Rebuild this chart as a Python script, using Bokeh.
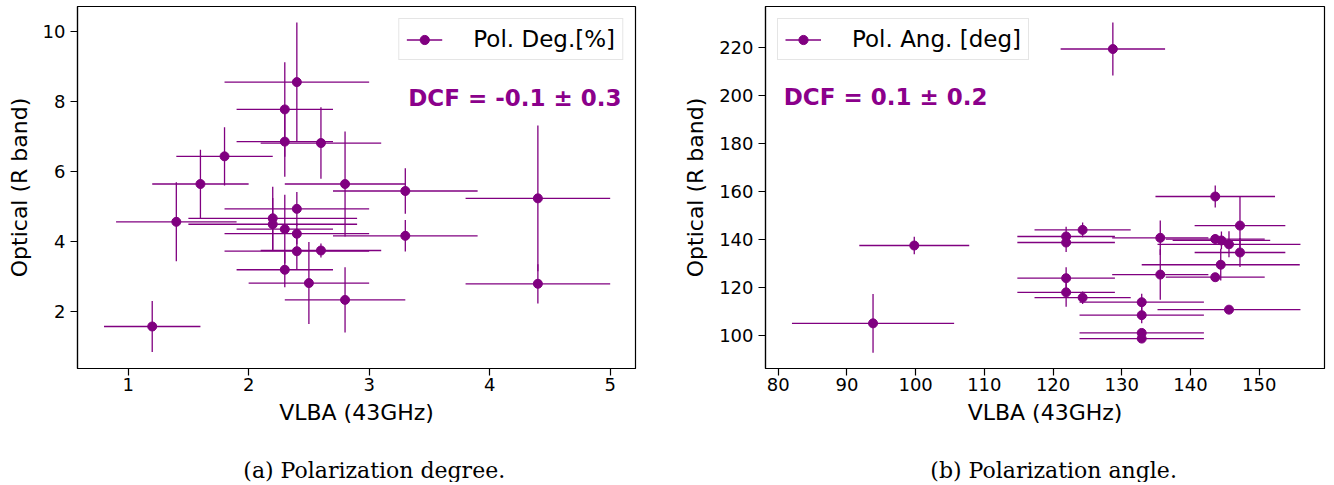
import numpy as np
from bokeh.plotting import figure
from bokeh.models import ColumnDataSource, Legend, LegendItem, Label, Range1d, FixedTicker
from bokeh.layouts import row, column
from bokeh.embed import file_html
from bokeh.resources import INLINE

# ---- Panel (a): polarization degree ----
deg_vlba = [1.2, 1.4, 1.6, 1.8, 2.2, 2.2, 2.3, 2.3, 2.4, 2.6, 2.8, 2.4,
            2.4, 2.4, 2.6, 2.3, 2.3, 2.5, 2.8, 3.3, 3.3, 4.4, 4.4]
deg_opt = [1.57, 4.56, 5.64, 6.43, 4.66, 4.49, 7.77, 6.85, 8.55, 6.81, 5.64, 4.93,
           4.22, 3.72, 3.74, 4.35, 3.19, 2.81, 2.33, 5.44, 4.16, 5.23, 2.79]
deg_vlba_err = [0.4, 0.5, 0.4, 0.4, 0.7, 0.7, 0.4, 0.4, 0.6, 0.5, 0.5, 0.6,
                0.6, 0.6, 0.5, 0.4, 0.4, 0.5, 0.5, 0.6, 0.6, 0.6, 0.6]
deg_opt_err = [0.73, 1.13, 0.98, 0.83, 0.9, 0.75, 1.35, 1.0, 1.7, 1.02, 1.5, 0.48,
               0.3, 0.53, 0.2, 0.98, 0.5, 1.17, 0.93, 0.65, 0.45, 2.08, 0.56]

# ---- Panel (b): polarization angle ----
ang_vlba = [93.8, 99.8, 128.7, 121.9, 121.9, 124.3, 121.9, 121.9, 124.3, 132.9, 132.9, 132.9,
            132.9, 135.6, 135.6, 143.6, 143.6, 144.5, 145.6, 147.2, 147.2, 144.4, 143.6, 145.6]
ang_opt = [105.1, 137.5, 219.3, 141.25, 138.75, 144.0, 123.9, 118.0, 115.8, 113.9, 108.5, 101.1,
           98.75, 140.7, 125.4, 157.9, 140.2, 139.6, 138.0, 145.8, 134.6, 129.5, 124.3, 110.8]
ang_vlba_err = [11.8, 8.0, 7.6, 7.1, 7.1, 7.0, 7.1, 7.1, 7.0, 9.05, 9.05, 9.05,
                9.05, 7.0, 7.0, 8.7, 7.2, 7.1, 10.4, 6.6, 6.6, 11.5, 7.2, 10.4]
ang_opt_err = [12.2, 3.6, 11.0, 4.1, 4.0, 3.1, 4.6, 6.0, 2.6, 3.5, 3.4, 1.0,
               1.0, 7.2, 10.5, 4.6, 2.0, 3.7, 5.4, 12.0, 6.0, 6.6, 1.5, 1.0]

deg_xticks = [1, 2, 3, 4, 5]
deg_yticks = [2, 4, 6, 8, 10]
ang_xticks = [80, 90, 100, 110, 120, 130, 140, 150]
ang_yticks = [100, 120, 140, 160, 180, 200, 220]

PURPLE = "#800080"
TEXT_PURPLE = "#8B008B"
FONT = "DejaVu Sans"


def make_panel(x, y, xe, ye, xr, yr, xt, yt, legend_text, legend_loc,
               dcf_text, dcf_x, dcf_y, dcf_align,
               border_left, border_right, frame_w):
    x = np.array(x, dtype=float)
    y = np.array(y, dtype=float)
    xe = np.array(xe, dtype=float)
    ye = np.array(ye, dtype=float)
    src = ColumnDataSource(dict(x=x, y=y, x0=x - xe, x1=x + xe, y0=y - ye, y1=y + ye))

    p = figure(frame_width=frame_w, frame_height=362,
               x_range=Range1d(*xr), y_range=Range1d(*yr),
               output_backend="svg", toolbar_location=None,
               min_border_left=border_left, min_border_right=border_right,
               min_border_top=6, min_border_bottom=64)

    xr_r = p.segment(x0="x0", y0="y", x1="x1", y1="y", source=src,
                     line_color=PURPLE, line_width=1.3)
    p.segment(x0="x", y0="y0", x1="x", y1="y1", source=src,
              line_color=PURPLE, line_width=1.3)
    sc = p.scatter(x="x", y="y", source=src, size=9, marker="circle",
                   fill_color=PURPLE, line_color=PURPLE)

    p.xgrid.visible = False
    p.ygrid.visible = False
    p.outline_line_color = "black"
    p.outline_line_width = 1.2
    p.outline_line_alpha = 1.0
    p.background_fill_color = "white"
    p.border_fill_color = "white"

    p.xaxis.ticker = FixedTicker(ticks=xt)
    p.yaxis.ticker = FixedTicker(ticks=yt)
    for ax in (p.xaxis, p.yaxis):
        ax.axis_line_color = "black"
        ax.axis_line_width = 1.2
        ax.major_tick_line_color = "black"
        ax.major_tick_line_width = 1.2
        ax.major_tick_out = 7
        ax.major_tick_in = 0
        ax.minor_tick_line_color = None
        ax.major_label_text_font = FONT
        ax.major_label_text_font_size = "18px"
        ax.major_label_text_color = "black"
        ax.axis_label_text_font = FONT
        ax.axis_label_text_font_size = "22px"
        ax.axis_label_text_font_style = "normal"
        ax.axis_label_text_color = "black"
    p.xaxis.axis_label = "VLBA (43GHz)"
    p.yaxis.axis_label = "Optical (R band)"
    p.xaxis.major_label_standoff = 2
    p.yaxis.major_label_standoff = 5
    p.xaxis.axis_label_standoff = 6
    p.yaxis.axis_label_standoff = 8

    legend = Legend(items=[LegendItem(label=legend_text, renderers=[xr_r, sc])],
                    location=legend_loc, margin=12, padding=7,
                    glyph_width=36, glyph_height=23, label_standoff=31,
                    label_text_font=FONT, label_text_font_size="23px",
                    label_text_color="black",
                    border_line_color="#cccccc", border_line_width=1.2,
                    background_fill_color="white", background_fill_alpha=0.8)
    p.add_layout(legend)

    p.add_layout(Label(x=dcf_x, y=dcf_y, text=dcf_text, text_align=dcf_align,
                       text_baseline="alphabetic", text_font=FONT,
                       text_font_size="23px", text_font_style="bold",
                       text_color=TEXT_PURPLE))
    return p


def make_caption(text, width, cx):
    h = 50
    c = figure(width=width, height=h, x_range=Range1d(0, width), y_range=Range1d(0, h),
               output_backend="svg", toolbar_location=None, min_border=0,
               x_axis_location=None, y_axis_location=None,
               outline_line_color=None)
    c.grid.visible = False
    c.add_layout(Label(x=cx, y=12, text=text, text_align="center",
                       text_baseline="alphabetic", text_font="DejaVu Serif",
                       text_font_size="22px", text_font_style="normal",
                       text_color="black"))
    return c


p1 = make_panel(deg_vlba, deg_opt, deg_vlba_err, deg_opt_err,
                (0.58, 5.21), (0.37, 10.71), deg_xticks, deg_yticks,
                "Pol. Deg.[%]", "top_right",
                "DCF = -0.1 \u00b1 0.3", 5.094, 8.11, "right",
                77, 10, 558)

p2 = make_panel(ang_vlba, ang_opt, ang_vlba_err, ang_opt_err,
                (78.15, 159.5), (86.3, 237.0), ang_xticks, ang_yticks,
                "Pol. Ang. [deg]", "top_left",
                "DCF = 0.1 \u00b1 0.2", 80.8, 199.2, "left",
                120, 2, 559)

c1 = make_caption("(a) Polarization degree.", 645, 343)
c2 = make_caption("(b) Polarization angle.", 681, 351)

layout = row(column(p1, c1), column(p2, c2))
open("out.html", "w").write(file_html(layout, INLINE))
